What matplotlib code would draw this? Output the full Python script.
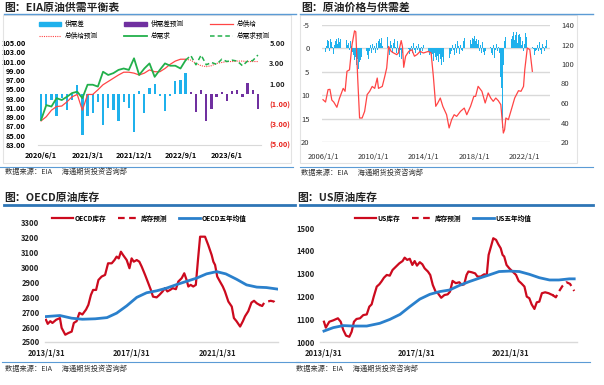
import matplotlib.pyplot as plt
from matplotlib.lines import Line2D
from matplotlib.patches import Patch, Rectangle
import numpy as np

plt.rcParams['font.family'] = ['Noto Sans CJK SC', 'DejaVu Sans']
plt.rcParams['axes.unicode_minus'] = False

W, H = 604, 385

# ---------------- EIA supply/demand balance (monthly, 2020/6 - 2023/12) ----------------
balance_ticks = ["2020/6/1", "2021/3/1", "2021/12/1", "2022/9/1", "2023/6/1"]
balance_hist = [-2.6, -1.1, -0.6, -2.2, -0.4, -1.6, -0.6, 0.9, -4.0, -2.2, -1.9, -0.75,
                -3.0, -1.4, -1.6, -2.6, -0.75, -1.4, -3.7, 0.3, -1.9, 0.6, 1.0, -0.2,
                -1.7, -0.2, 1.3, 1.4, 2.1]
balance_fcst = [0.15, -1.75, 0.4, -2.6, -1.5, -0.25, 0.2, -0.65, 0.3, 0.4, -0.3, 1.05,
                0.4, -1.5]
supply_hist = [88.2, 89.1, 90.5, 91.3, 91.4, 92.3, 93.4, 93.9, 90.5, 93.9, 93.9, 94.9,
               96.0, 96.7, 97.4, 98.1, 98.7, 98.7, 98.5, 98.1, 98.5, 99.2, 98.8, 98.8,
               99.5, 100.4, 101.1, 101.5, 101.5]
supply_fcst = [101.5, 101.3, 100.6, 100.1, 99.9, 100.1, 100.6, 100.8, 101.0, 101.0,
               101.1, 101.1, 101.0, 101.0, 101.0]
demand_hist = [88.4, 91.6, 91.3, 93.1, 92.7, 93.4, 94.2, 94.5, 93.1, 96.0, 96.0, 95.6,
               98.8, 98.1, 98.5, 99.2, 99.5, 99.2, 101.7, 98.1, 99.5, 100.6, 97.7, 99.2,
               100.6, 100.1, 100.1, 99.5, 101.3]
demand_fcst = [101.3, 102.3, 100.3, 102.4, 100.3, 100.8, 100.4, 101.5, 101.0, 101.3,
               101.1, 100.1, 101.1, 101.2, 102.4]

# ---------------- price vs supply gap ----------------
gap_by_year = [
    [-1.5, -1.2, 0.8, -0.6, -1.8, -1.5, 0.5, -2.0, -1.3, -0.4, 1.2, -0.8],   # 2006
    [-1.6, -2.1, -0.9, -2.3, -1.4, -2.0, -0.5, -1.8, -2.2, -1.0, -1.9, -0.7],
    [-1.2, 0.4, -1.5, -0.6, 0.8, 1.5, 2.4, 1.8, 3.5, 2.2, 4.4, 3.0],
    [2.5, 1.8, 3.2, 1.2, 2.0, 0.6, 1.4, 2.2, 0.5, -0.8, 0.9, -1.0],
    [0.4, -0.6, 1.0, -1.2, 0.3, -1.5, -2.0, -1.1, -2.3, -0.5, -1.8, -2.4],   # 2010
    [-1.0, -2.5, -0.5, 1.5, -1.6, -0.8, 0.9, -1.2, -2.0, -0.4, 1.0, -1.5],
    [0.6, 1.8, 0.4, 2.2, 1.0, 1.5, -0.3, 0.8, 1.6, 0.2, 1.2, 0.5],
    [-0.5, 0.9, -1.2, 0.4, 1.0, -0.6, 0.3, -1.0, 0.8, 1.4, -0.4, 0.6],
    [-0.8, 0.5, -0.3, 1.2, 0.6, 1.5, 0.8, 2.0, 1.3, 2.6, 1.0, 1.8],         # 2014
    [2.4, 1.6, 3.0, 1.2, 2.2, 3.5, 1.8, 2.8, 1.5, 2.5, 5.0, 3.4],
    [2.0, 1.2, 0.6, -0.8, 0.4, 1.5, -1.0, 0.9, -1.6, -0.5, 1.1, -0.8],
    [0.4, 0.6, -1.5, -2.2, -0.8, -2.6, -1.4, -2.4, -1.9, -0.9, -2.3, -2.0],
    [-2.6, -1.5, -2.0, -1.0, -1.7, 0.5, -0.7, 1.0, -1.4, 0.8, 1.4, 0.6],    # 2018
    [-0.6, 0.5, -1.2, -0.4, 0.9, 1.4, -0.8, 2.0, 0.3, -1.0, 0.6, -0.4],
    [1.0, 6.2, 8.5, 17.0, 3.5, -1.5, -2.5, -3.0, -2.2, -3.3, -2.8, -2.0],
    [-2.7, -3.4, -1.8, -2.9, -3.5, -1.2, -2.8, -3.1, -2.4, -0.8, -1.5, 0.5],
    [-1.0, -3.3, -2.5, -1.3, 0.8, -0.5, 1.6, -0.3, 0.2, 1.4, 0.6, 0.4],     # 2022
    [-0.8, 0.5, -1.4, 0.3, 1.2, -1.0, -0.4, 0.6, -0.5, -1.7],
]
price_year = [2006.0, 2006.2, 2006.4, 2006.55, 2006.7, 2006.85, 2007.1, 2007.3, 2007.6,
              2007.75, 2007.9, 2008.1, 2008.3, 2008.5, 2008.6, 2008.75, 2008.9, 2009.1,
              2009.3, 2009.5, 2009.7, 2009.9, 2010.1, 2010.3, 2010.4, 2010.7, 2010.9,
              2011.05, 2011.2, 2011.4, 2011.6, 2011.85, 2011.98, 2012.2, 2012.3, 2012.4,
              2012.55, 2012.8, 2013.05, 2013.25, 2013.45, 2013.7, 2013.96, 2014.35,
              2014.57, 2014.75, 2014.94, 2015.1, 2015.3, 2015.5, 2015.8, 2016.0, 2016.2,
              2016.4, 2016.6, 2016.9, 2017.2, 2017.4, 2017.7, 2017.96, 2018.1, 2018.3,
              2018.6, 2018.86, 2019.1, 2019.3, 2019.5, 2019.7, 2019.9, 2020.1, 2020.3,
              2020.4, 2020.5, 2020.7, 2020.97, 2021.2, 2021.5, 2021.7, 2021.9, 2022.0,
              2022.2, 2022.4, 2022.6]
price = [63.4, 61, 73.7, 74, 63, 61, 55.6, 64.6, 75, 72, 92.5, 94, 119.8, 134, 133, 85.6,
         44.6, 44.6, 51.4, 68.6, 72, 77, 75, 85.6, 75, 77, 87.4, 95.9, 118, 113, 111.3,
         109.6, 111.3, 124, 118, 96.6, 108, 112.9, 114.6, 108, 109.6, 112.9, 111.3, 112.9,
         111.3, 87.4, 56.6, 60, 65.1, 56.6, 48, 34.4, 42.9, 48, 46.3, 51.4, 54.8, 48, 56.6,
         66.8, 66.8, 77.1, 72, 60, 70.3, 65.1, 61.7, 65.1, 62.4, 58.3, 29.2, 32.6, 44.6,
         42.9, 54.8, 65.1, 72.6, 72, 77, 94.2, 116.4, 114.7, 92.5]
price_ticks = [2006, 2010, 2014, 2018, 2022]

# ---------------- OECD inventory ----------------
oecd_year = [2013.0, 2013.08, 2013.2, 2013.3, 2013.47, 2013.65, 2013.73, 2013.9, 2014.04,
             2014.2, 2014.3, 2014.43, 2014.56, 2014.7, 2014.87, 2014.98, 2015.1, 2015.2,
             2015.34, 2015.45, 2015.6, 2015.76, 2015.9, 2016.07, 2016.2, 2016.3, 2016.4,
             2016.5, 2016.6, 2016.77, 2016.9, 2017.0, 2017.1, 2017.24, 2017.36, 2017.47,
             2017.63, 2017.78, 2017.9, 2018.0, 2018.17, 2018.3, 2018.45, 2018.56, 2018.67,
             2018.8, 2018.92, 2019.07, 2019.18, 2019.34, 2019.46, 2019.57, 2019.65,
             2019.76, 2019.88, 2020.0, 2020.1, 2020.2, 2020.43, 2020.58, 2020.74, 2020.82,
             2020.9, 2021.0, 2021.13, 2021.26, 2021.36, 2021.52, 2021.68, 2021.78, 2021.9,
             2022.07, 2022.2, 2022.3, 2022.45, 2022.6, 2022.72, 2022.85, 2022.97]
oecd_stock = [2649, 2622, 2640, 2628, 2649, 2661, 2595, 2549, 2560, 2570, 2628, 2640, 2696,
              2685, 2718, 2750, 2817, 2850, 2850, 2917, 2940, 2951, 3029, 3029, 3051, 3074,
              3062, 3107, 3085, 3051, 2996, 3062, 3040, 3051, 3040, 3007, 2951, 2895, 2850,
              2805, 2800, 2817, 2840, 2862, 2840, 2850, 2862, 2855, 2906, 2929, 2962, 2917,
              2873, 2884, 2873, 2884, 3051, 3208, 3208, 3152, 3085, 3040, 3018, 2940, 2906,
              2873, 2840, 2772, 2738, 2661, 2640, 2604, 2640, 2673, 2707, 2765, 2777, 2760,
              2750]
oecd_fcst_year = [2022.97, 2023.1, 2023.2, 2023.35, 2023.5, 2023.65, 2023.78]
oecd_fcst = [2750, 2742, 2765, 2772, 2777, 2772, 2750]
oecd_avg_year = [2013.0, 2013.65, 2014.2, 2014.7, 2015.3, 2015.85, 2016.3, 2016.77, 2017.24,
                 2017.7, 2018.17, 2018.63, 2019.1, 2019.57, 2020.03, 2020.5, 2020.97,
                 2021.4, 2021.9, 2022.37, 2022.85, 2023.3, 2023.85]
oecd_avg = [2671, 2678, 2660, 2653, 2656, 2664, 2694, 2743, 2800, 2831, 2844, 2862, 2886,
            2908, 2929, 2958, 2973, 2958, 2922, 2884, 2869, 2866, 2855]

# ---------------- US inventory ----------------
us_year = [2013.0, 2013.08, 2013.23, 2013.4, 2013.6, 2013.72, 2013.83, 2013.95, 2014.09,
           2014.19, 2014.29, 2014.4, 2014.55, 2014.69, 2014.84, 2014.95, 2015.05, 2015.14,
           2015.27, 2015.38, 2015.47, 2015.58, 2015.7, 2015.83, 2015.95, 2016.1, 2016.24,
           2016.38, 2016.47, 2016.58, 2016.69, 2016.8, 2016.9, 2017.0, 2017.12, 2017.23,
           2017.33, 2017.47, 2017.57, 2017.68, 2017.8, 2017.9, 2018.04, 2018.18, 2018.32,
           2018.42, 2018.53, 2018.67, 2018.82, 2018.93, 2019.03, 2019.13, 2019.21, 2019.35,
           2019.5, 2019.6, 2019.74, 2019.89, 2020.0, 2020.08, 2020.18, 2020.28, 2020.4,
           2020.5, 2020.6, 2020.68, 2020.75, 2020.85, 2020.97, 2021.11, 2021.26, 2021.37,
           2021.48, 2021.62, 2021.72, 2021.83, 2021.93, 2022.05, 2022.15, 2022.26, 2022.37,
           2022.51, 2022.66, 2022.76, 2022.83]
us_stock = [1089, 1063, 1089, 1095, 1104, 1089, 1053, 1028, 1023, 1045, 1089, 1101, 1104,
            1118, 1121, 1155, 1165, 1199, 1243, 1253, 1265, 1282, 1294, 1291, 1316, 1331,
            1345, 1355, 1370, 1360, 1365, 1338, 1355, 1335, 1350, 1341, 1323, 1309, 1294,
            1250, 1221, 1214, 1194, 1206, 1209, 1221, 1268, 1258, 1262, 1250, 1253, 1294,
            1309, 1306, 1301, 1287, 1287, 1297, 1294, 1382, 1418, 1455, 1448, 1428, 1411,
            1382, 1375, 1338, 1323, 1309, 1294, 1268, 1258, 1243, 1199, 1192, 1165, 1145,
            1174, 1177, 1214, 1218, 1214, 1209, 1206]
us_fcst_year = [2022.83, 2022.97, 2023.1, 2023.25, 2023.43, 2023.58, 2023.76]
us_fcst = [1206, 1196, 1221, 1245, 1262, 1255, 1224]
us_avg_year = [2013.0, 2013.4, 2013.83, 2014.26, 2014.84, 2015.4, 2015.83, 2016.27, 2016.69,
               2017.12, 2017.55, 2017.97, 2018.4, 2018.82, 2019.25, 2019.68, 2020.1,
               2020.53, 2020.97, 2021.4, 2021.83, 2022.26, 2022.7, 2023.1, 2023.55, 2023.76]
us_avg = [1048, 1063, 1072, 1070, 1070, 1082, 1099, 1121, 1155, 1188, 1209, 1221, 1228,
          1248, 1265, 1280, 1294, 1309, 1311, 1309, 1297, 1282, 1272, 1272, 1277, 1277]
stock_ticks = [2013, 2017, 2021]

C_SKY = '#1fb1ec'
C_PURPLE = '#7030a0'
C_RED = '#ff4545'
C_GREEN = '#22b04b'
C_DRED = '#cc0a1e'
C_BLUE = '#2a80cc'
C_GRID = '#d9d9d9'

fig = plt.figure(figsize=(W / 100, H / 100), dpi=100)


def px_rect(x0, y0, x1, y1):
    return [x0 / W, 1 - y1 / H, (x1 - x0) / W, (y1 - y0) / H]


def hline(x0, x1, y, color, lw):
    fig.add_artist(Line2D([x0 / W, x1 / W], [1 - y / H, 1 - y / H], color=color, lw=lw,
                          transform=fig.transFigure))


def ftext(x, y, s, **kw):
    fig.text(x / W, 1 - y / H, s, va='center', ha='left', **kw)


def bare(ax):
    for s in ax.spines.values():
        s.set_visible(False)
    ax.tick_params(length=0)


# ---- frames, titles, sources ----
ftext(4, 8, '图：EIA原油供需平衡表', fontsize=7.8, fontweight='bold', color='#222222')
ftext(301, 8, '图：原油价格与供需差', fontsize=7.8, fontweight='bold', color='#222222')
ftext(4, 198, '图：OECD原油库存', fontsize=7.8, fontweight='bold', color='#222222')
ftext(297, 198, '图：US原油库存', fontsize=7.8, fontweight='bold', color='#222222')
hline(4, 296, 13.5, '#5b9bd5', 1.0)
hline(300, 593, 13.5, '#5b9bd5', 1.0)
hline(4, 295, 204.5, '#2e75b6', 2.0)
hline(300, 593, 204.5, '#2e75b6', 2.0)
hline(0, 293, 167, '#5b9bd5', 0.8)
hline(300, 593, 167, '#5b9bd5', 0.8)
hline(2, 300, 362, '#5b9bd5', 0.8)
hline(296, 590, 362, '#5b9bd5', 0.8)
for x0, x1 in [(3, 291), (300, 577)]:
    fig.add_artist(Rectangle((x0 / W, 1 - 163 / H), (x1 - x0) / W, 148 / H, fill=False,
                             edgecolor='#e3e3e3', lw=0.8, transform=fig.transFigure))
src = '数据来源：EIA      海通期货投资咨询部'
for x, y in [(5, 172), (301, 173), (5, 369), (296, 369)]:
    ftext(x, y, src, fontsize=5.2, color='#333333')

# ---- panel 1: EIA balance ----
n_hist = len(balance_hist)
idx_hist = np.arange(n_hist)
idx_fcst = np.arange(n_hist, n_hist + len(balance_fcst))
idx_line_f = np.arange(n_hist - 1, n_hist - 1 + len(supply_fcst))

ax1 = fig.add_axes(px_rect(38, 43, 261, 145))
ax1.bar(idx_hist, balance_hist, width=0.45, color=C_SKY)
ax1.bar(idx_fcst, balance_fcst, width=0.45, color=C_PURPLE)
ax1.set_ylim(-5, 5)
ax1.set_xlim(-0.6, 42.6)

ax1l = ax1.twinx()
ax1l.plot(idx_hist, supply_hist, color=C_RED, lw=0.9)
ax1l.plot(idx_line_f, supply_fcst, color=C_RED, lw=0.8, ls=(0, (1, 1)))
ax1l.plot(idx_hist, demand_hist, color=C_GREEN, lw=1.3)
ax1l.plot(idx_line_f, demand_fcst, color=C_GREEN, lw=1.1, ls=(0, (3, 2)))
ax1l.set_ylim(83, 105)

# bars read on the right-hand scale, lines on the left-hand one
ax1.yaxis.tick_right()
ax1l.yaxis.tick_left()
ax1.set_yticks([5, 3, 1, -1, -3, -5])
ax1.set_yticklabels(['5.00', '3.00', '1.00', '(1.00)', '(3.00)', '(5.00)'])
for lab, c in zip(ax1.get_yticklabels(), ['#222222'] * 3 + ['#e8241d'] * 3):
    lab.set_color(c)
bare(ax1)
ax1.spines['bottom'].set_visible(True)
ax1.spines['bottom'].set_color(C_GRID)
ax1.set_xticks([0, 9, 18, 27, 36])
ax1.set_xticklabels(balance_ticks)
ax1.tick_params(axis='x', labelsize=5.3, pad=5)
ax1.tick_params(axis='y', labelsize=5.3, pad=6)
for lab in ax1.get_xticklabels() + ax1.get_yticklabels():
    lab.set_fontweight('bold')

ax1l.set_yticks(np.arange(83, 106, 2))
ax1l.set_yticklabels([f'{v:.2f}' for v in np.arange(83, 106, 2)])
bare(ax1l)
ax1l.tick_params(axis='y', labelsize=5.3, pad=9)
for lab in ax1l.get_yticklabels():
    lab.set_fontweight('bold')

handles = [Patch(color=C_SKY), Line2D([], [], color=C_RED, lw=0.8, ls=(0, (1, 1))),
           Patch(color=C_PURPLE), Line2D([], [], color=C_GREEN, lw=1.3),
           Line2D([], [], color=C_RED, lw=0.9), Line2D([], [], color=C_GREEN, lw=1.1, ls=(0, (3, 2)))]
labels = ['供需差', '总供给预测', '供需差预测', '总需求', '总供给', '总需求预测']
fig.legend(handles, labels, ncol=3, loc='center', bbox_to_anchor=(154 / W, 1 - 30 / H),
           frameon=False, fontsize=4.8, handlelength=3.4, handleheight=0.5,
           handletextpad=0.5, columnspacing=4.0, labelspacing=0.55)

# ---- panel 2: price vs gap ----
gap = np.concatenate(gap_by_year)
gap_x = 2006 + np.arange(len(gap)) / 12

ax2 = fig.add_axes(px_rect(322, 25, 550, 142))
ax2.bar(gap_x, gap, width=0.065, color=C_SKY)
ax2.set_ylim(20, -5)
ax2.set_xlim(2005.92, 2024.0)
ax2.set_yticks([-5, 0, 5, 10, 15, 20])
ax2.yaxis.grid(True, color=C_GRID, lw=1.0)
ax2.set_axisbelow(True)
ax2.set_xticks(price_ticks)
ax2.set_xticklabels([f'{y}/1/1' for y in price_ticks])
bare(ax2)
ax2.tick_params(labelsize=5.5, colors='#333333')
ax2.tick_params(axis='x', pad=8)
ax2.tick_params(axis='y', pad=9)

ax2r = ax2.twinx()
ax2r.plot(price_year, price, color=C_RED, lw=0.9)
ax2r.set_ylim(20, 140)
ax2r.set_yticks(np.arange(20, 141, 20))
bare(ax2r)
ax2r.tick_params(labelsize=5.5, colors='#333333', pad=8)


# ---- panels 3 and 4: inventories ----
def stock_panel(rect, xlim, ylim, yticks, hist_x, hist_y, f_x, f_y, a_x, a_y,
                names, leg_center):
    ax = fig.add_axes(px_rect(*rect))
    ax.plot(hist_x, hist_y, color=C_DRED, lw=1.6, label=names[0])
    ax.plot(f_x, f_y, color=C_DRED, lw=1.6, ls=(0, (3, 2)), label=names[1])
    ax.plot(a_x, a_y, color=C_BLUE, lw=2.0, label=names[2])
    ax.set_xlim(*xlim)
    ax.set_ylim(*ylim)
    ax.set_yticks(yticks)
    ax.set_xticks(stock_ticks)
    ax.set_xticklabels([f'{y}/1/31' for y in stock_ticks])
    bare(ax)
    ax.spines['bottom'].set_visible(True)
    ax.spines['bottom'].set_color(C_GRID)
    ax.spines['bottom'].set_linewidth(1.0)
    ax.tick_params(labelsize=5.5, colors='#222222')
    ax.tick_params(axis='x', pad=5)
    ax.tick_params(axis='y', pad=4)
    for lab in ax.get_xticklabels() + ax.get_yticklabels():
        lab.set_fontweight('bold')
    leg = fig.legend(*ax.get_legend_handles_labels(), ncol=3, loc='center',
                     bbox_to_anchor=(leg_center[0] / W, 1 - leg_center[1] / H),
                     frameon=False, fontsize=4.8, handlelength=3.2,
                     handletextpad=0.2, columnspacing=1.8)
    for t in leg.get_texts():
        t.set_fontweight('bold')
    return ax


stock_panel((45, 223, 278, 342), (2012.953, 2023.84), (2500, 3300),
            np.arange(2500, 3301, 100), oecd_year, oecd_stock, oecd_fcst_year, oecd_fcst,
            oecd_avg_year, oecd_avg, ['OECD库存', '库存预测', 'OECD五年均值'], (149, 218))
stock_panel((320, 228, 577, 342), (2012.83, 2023.88), (1000, 1500),
            np.arange(1000, 1501, 100), us_year, us_stock, us_fcst_year, us_fcst,
            us_avg_year, us_avg, ['US库存', '库存预测', 'US五年均值'], (443, 218))

fig.savefig('out.png', dpi=100)
